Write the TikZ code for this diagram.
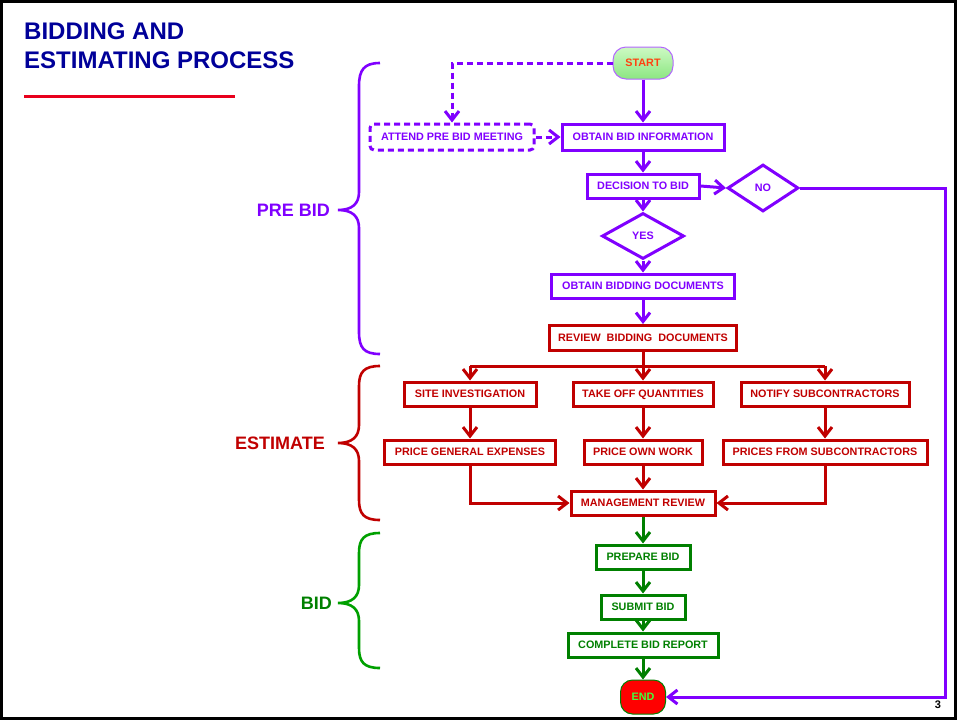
\documentclass[tikz,border=0pt]{standalone}
\usepackage{fontspec}
\setmainfont{Liberation Sans}
\usetikzlibrary{arrows.meta,shapes.geometric}
\definecolor{pur}{RGB}{128,0,255}
\definecolor{dred}{RGB}{192,0,0}
\definecolor{dgreen}{RGB}{0,128,0}
\definecolor{bgreen}{RGB}{0,160,0}
\definecolor{navy}{RGB}{0,0,153}
\definecolor{titlered}{RGB}{232,0,28}
\definecolor{startfg}{RGB}{255,64,16}
\definecolor{endfg}{RGB}{64,255,64}
\begin{document}
\begin{tikzpicture}[x=1pt,y=-1pt,
  box/.style={draw, line width=3pt, rectangle, inner sep=0pt, font=\fontsize{10.8}{12}\selectfont\bfseries, minimum height=24pt, text height=7.8pt, text depth=0pt},
  pbox/.style={box, draw=pur, text=pur},
  rbox/.style={box, draw=dred, text=dred},
  gbox/.style={box, draw=dgreen, text=dgreen},
  dia/.style={draw=pur, text=pur, line width=3pt, diamond, inner sep=0pt, font=\fontsize{10.8}{12}\selectfont\bfseries, text height=7.8pt, text depth=0pt},
  tip/.style={-{Straight Barb[length=9pt,width=14pt]}},
  parr/.style={draw=pur, line width=3pt, tip},
  rarr/.style={draw=dred, line width=3pt, tip},
  garr/.style={draw=dgreen, line width=3pt, tip},
  brace/.style={line width=2.6pt},
  seclabel/.style={font=\fontsize{18}{20}\selectfont\bfseries, anchor=east, inner sep=0pt},
  ttl/.style={font=\fontsize{24}{26}\selectfont\bfseries, text=navy, anchor=west, inner sep=0pt}
]
\useasboundingbox (0,0) rectangle (957,720);
\draw[black, line width=2.5pt] (1.25,1.25) rectangle (955.5,718.5);

% title
\node[ttl] (t1) at (24,31) {BIDDING AND};
\node[ttl] (t2) at (24,60) {ESTIMATING PROCESS};
\draw[titlered, line width=3pt] (24,96) -- (235,96);

% pre bid nodes
\node[draw=pur!60, line width=1pt, rounded corners=13pt, minimum width=60pt, minimum height=32pt,
      top color={rgb,255:red,205;green,250;blue,195}, bottom color={rgb,255:red,140;green,230;blue,130},
      text=startfg, font=\fontsize{10.8}{12}\selectfont\bfseries, inner sep=0pt, text height=7.8pt, text depth=0pt] (start) at (643,63) {START};
\node[pbox, dashed, dash pattern=on 6pt off 4pt, rounded corners=4pt, minimum width=164pt, minimum height=26pt] (attend) at (452,137) {ATTEND PRE BID MEETING};
\node[pbox, minimum width=162pt, minimum height=26pt] (obtinfo) at (643,137) {OBTAIN BID INFORMATION};
\node[pbox, minimum width=112pt] (dec) at (643,186) {DECISION TO BID};
\node[dia, minimum width=71pt, minimum height=47pt] (no) at (763,188) {NO};
\node[dia, minimum width=82pt, minimum height=46pt] (yes) at (643,236) {YES};
\node[pbox, minimum width=183pt] (obtdocs) at (643,286) {OBTAIN BIDDING DOCUMENTS};

% estimate nodes
\node[rbox, minimum width=187pt, minimum height=25pt] (review) at (643,338) {REVIEW\ \ BIDDING\ \ DOCUMENTS};
\node[rbox, minimum width=132pt] (site) at (470,394) {SITE INVESTIGATION};
\node[rbox, minimum width=140pt] (take) at (643,394) {TAKE OFF QUANTITIES};
\node[rbox, minimum width=168pt] (notify) at (825,394) {NOTIFY SUBCONTRACTORS};
\node[rbox, minimum width=171pt] (pge) at (470,452) {PRICE GENERAL EXPENSES};
\node[rbox, minimum width=118pt] (pow) at (643,452) {PRICE OWN WORK};
\node[rbox, minimum width=204pt] (pfs) at (825,452) {PRICES FROM SUBCONTRACTORS};
\node[rbox, minimum width=144pt] (mgmt) at (643,503) {MANAGEMENT REVIEW};

% bid nodes
\node[gbox, minimum width=94pt] (prep) at (643,557) {PREPARE BID};
\node[gbox, minimum width=84pt] (submit) at (643,607) {SUBMIT BID};
\node[gbox, minimum width=150pt] (complete) at (643,645) {COMPLETE BID REPORT};
\node[draw=dgreen, line width=1pt, fill=red, rounded corners=12pt, minimum width=45pt, minimum height=34pt,
      text=endfg, font=\fontsize{10.8}{12}\selectfont\bfseries, inner sep=0pt, text height=7.8pt, text depth=0pt] (end) at (643,697) {END};

\node[font=\fontsize{11}{12}\selectfont\bfseries, inner sep=0pt] (pg) at (938,705) {3};

% connectors pre bid
\coordinate (dcorner) at (452,63);
\draw[pur, line width=3pt, dashed, dash pattern=on 6pt off 4pt, tip] (start.west) -- (dcorner) -- (attend.north);
\draw[pur, line width=3pt, dashed, dash pattern=on 6pt off 4pt, tip] (attend.east) -- (obtinfo.west);
\draw[parr] (start.south) -- (obtinfo.north);
\draw[parr] (obtinfo.south) -- (dec.north);
\draw[parr] (dec.east) -- (no.west);
\draw[parr] (dec.south) -- (yes.north);
\draw[parr] (yes.south) -- (obtdocs.north);
\draw[parr] (obtdocs.south) -- (review.north);
\coordinate (nocorner1) at (945,188);
\coordinate (nocorner2) at (945,697);
\draw[parr] (no.east) -- (nocorner1) -- (nocorner2) -- (end.east);

% connectors estimate
\coordinate (bl) at (470,366);
\coordinate (br) at (825,366);
\coordinate (bm) at (643,366);
\draw[dred, line width=3pt] (review.south) -- (bm);
\draw[dred, line width=3pt] (bl) -- (br);
\draw[rarr] (bl) -- (site.north);
\draw[rarr] (bm) -- (take.north);
\draw[rarr] (br) -- (notify.north);
\draw[rarr] (site.south) -- (pge.north);
\draw[rarr] (take.south) -- (pow.north);
\draw[rarr] (notify.south) -- (pfs.north);
\draw[rarr] (pow.south) -- (mgmt.north);
\draw[rarr] (pge.south) |- (mgmt.west);
\draw[rarr] (pfs.south) |- (mgmt.east);

% connectors bid
\draw[garr] (mgmt.south) -- (prep.north);
\draw[garr] (prep.south) -- (submit.north);
\draw[garr] (submit.south) -- (complete.north);
\draw[garr] (complete.south) -- (end.north);

% braces
\draw[brace, pur] (380,63) .. controls (364,63) and (359,70) .. (359,86) -- (359,192)
  .. controls (359,204) and (352,210) .. (338,210) .. controls (352,210) and (359,216) .. (359,228)
  -- (359,332) .. controls (359,348) and (364,354) .. (380,354);
\node[seclabel, text=pur] (lpre) at (330,210) {PRE BID};

\draw[brace, dred] (380,366) .. controls (364,366) and (359,372) .. (359,386) -- (359,425)
  .. controls (359,437) and (352,443) .. (338,443) .. controls (352,443) and (359,449) .. (359,461)
  -- (359,500) .. controls (359,514) and (364,520) .. (380,520);
\node[seclabel, text=dred] (lest) at (325,443) {ESTIMATE};

\draw[brace, bgreen] (380,533) .. controls (364,533) and (359,539) .. (359,553) -- (359,585)
  .. controls (359,597) and (352,603) .. (338,603) .. controls (352,603) and (359,609) .. (359,621)
  -- (359,648) .. controls (359,662) and (364,668) .. (380,668);
\node[seclabel, text=dgreen] (lbid) at (332,603) {BID};
\end{tikzpicture}
\end{document}
